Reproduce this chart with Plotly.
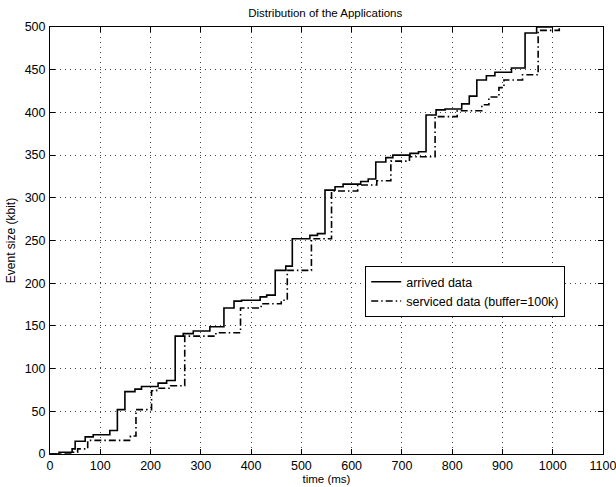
import plotly.graph_objects as go

# arrived data: (time ms, cumulative kbit) step points
arrived_t = [0, 18, 44, 50, 70, 86, 119, 134, 149, 169, 182, 215, 232, 249, 265, 285,
             318, 346, 366, 381, 418, 431, 448, 469, 482, 517, 532, 547, 567, 583, 618,
             633, 648, 668, 682, 716, 733, 748, 768, 786, 819, 834, 849, 868, 885, 918,
             945, 968, 1000]
arrived_v = [0, 2, 6, 15, 20, 22.5, 27.5, 52, 73, 76, 79, 83, 86, 138, 141, 144,
             149, 171, 179, 180, 184, 186, 215, 220, 252, 256, 258, 309, 313, 316, 319,
             322, 342, 347, 350, 352, 354, 397, 403, 404, 410, 419, 438, 443, 447, 452,
             493, 500, 500]

# serviced data (buffer = 100k)
serviced_t = [0, 45, 55, 75, 160, 171, 202, 212, 240, 268, 330, 379, 420, 460, 472,
              520, 560, 612, 650, 678, 715, 766, 810, 859, 873, 893, 903, 940, 971,
              1013]
serviced_v = [0, 2, 6, 16, 21, 52, 74, 77, 80, 138, 142, 171, 176, 180, 215,
              252, 308, 315, 320, 343, 348, 395, 402, 409, 418, 429, 438, 444, 496,
              500]

x_ticks = list(range(0, 1101, 100))
y_ticks = list(range(0, 501, 50))

fig = go.Figure()
fig.add_trace(go.Scatter(x=arrived_t, y=arrived_v, mode="lines", name="arrived data",
                         line=dict(color="black", width=1.6, shape="hv")))
fig.add_trace(go.Scatter(x=serviced_t, y=serviced_v, mode="lines",
                         name="serviced data (buffer=100k)",
                         line=dict(color="black", width=1.6, shape="hv",
                                   dash="7px,3px,1.5px,3px")))

font = "Liberation Sans, Arial, Helvetica, sans-serif"
axis_common = dict(showline=True, linecolor="black", linewidth=1, mirror="ticks",
                   ticks="inside", ticklen=5, tickcolor="black",
                   showgrid=True, gridcolor="#444", griddash="1px,4px", gridwidth=1,
                   zeroline=False, automargin=False, ticklabeloverflow="allow",
                   tickfont=dict(size=12.5, color="black", family=font))

fig.update_layout(
    template="none",
    width=616, height=487,
    margin=dict(l=50, r=13, t=27, b=33),
    paper_bgcolor="white", plot_bgcolor="white",
    font=dict(family=font, color="black", size=11),
    title=dict(text="Distribution of the Applications", x=0.528, xanchor="center",
               y=0.982, yanchor="top", font=dict(size=11.5, color="black")),
    xaxis=dict(range=[0, 1100], tickvals=x_ticks, ticklabelstandoff=0,
               title=dict(text="time (ms)", standoff=2,
                          font=dict(size=11.5, color="black")),
               **axis_common),
    yaxis=dict(range=[0, 500], tickvals=y_ticks, ticklabelstandoff=1,
               title=dict(text="Event size (kbit)", standoff=6,
                          font=dict(size=12, color="black")),
               **axis_common),
    legend=dict(x=0.57, y=0.44, xanchor="left", yanchor="top",
                bgcolor="white", bordercolor="black", borderwidth=1,
                font=dict(size=12.5, color="black"), tracegroupgap=0, itemwidth=30),
    showlegend=True,
)

fig.write_html("out.html")
